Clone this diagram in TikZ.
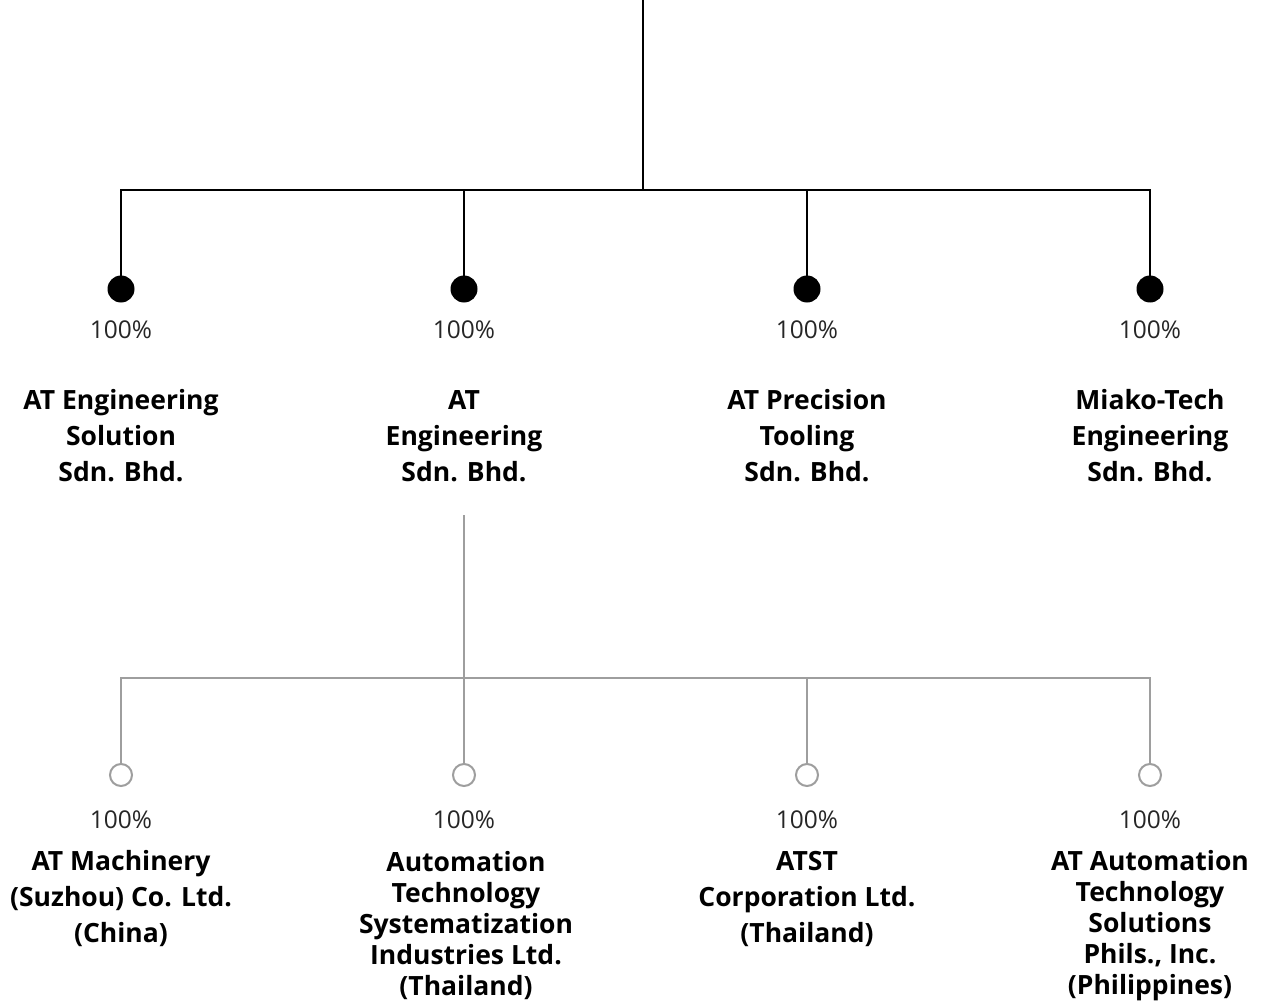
\documentclass[tikz,border=0pt]{standalone}
\usepackage{fontspec}
\setmainfont{Open Sans}
\definecolor{lgrey}{HTML}{9E9E9E}
\begin{document}
\begin{tikzpicture}[x=1pt,y=-1pt,
  blackline/.style={line width=2pt,black},
  greyline/.style={line width=2.4pt,lgrey},
  fulldot/.style={circle,fill=black,inner sep=0pt,minimum size=27pt},
  opendot/.style={circle,draw=lgrey,line width=2pt,fill=white,inner sep=0pt,minimum size=22pt},
  pct/.style={font=\fontsize{24.5}{28}\selectfont,inner sep=0pt,text=black!85},
  nameA/.style={font=\fontsize{26.5}{36}\selectfont\bfseries,align=center,inner sep=0pt},
  nameB/.style={font=\fontsize{26.5}{31}\selectfont\bfseries,align=center,inner sep=0pt}]
\useasboundingbox (0,0) rectangle (1263,1003);
% top level
\coordinate (top) at (643,0);
\coordinate (hub) at (643,190);
\node[fulldot] (d1) at (121,289) {};
\node[fulldot] (d2) at (464,289) {};
\node[fulldot] (d3) at (807,289) {};
\node[fulldot] (d4) at (1150,289) {};
\draw[blackline] (top) -- (hub);
\draw[blackline] (d1.center) |- (hub) -| (d4.center);
\draw[blackline] (d2.center) -- (d2.center |- hub);
\draw[blackline] (d3.center) -- (d3.center |- hub);
\node[pct] (p1) at (121,330) {100\%};
\node[pct] (p2) at (464,330) {100\%};
\node[pct] (p3) at (807,330) {100\%};
\node[pct] (p4) at (1150,330) {100\%};
\node[nameA] (n1) at (121,436) {AT Engineering\\Solution\\Sdn. Bhd.};
\node[nameA] (n2) at (464,436) {AT\\Engineering\\Sdn. Bhd.};
\node[nameA] (n3) at (807,436) {AT Precision\\Tooling\\Sdn. Bhd.};
\node[nameA] (n4) at (1150,436) {Miako-Tech\\Engineering\\Sdn. Bhd.};
% second level
\coordinate (gtop) at (464,515);
\coordinate (ghub) at (464,678);
\node[opendot] (e1) at (121,775) {};
\node[opendot] (e2) at (464,775) {};
\node[opendot] (e3) at (807,775) {};
\node[opendot] (e4) at (1150,775) {};
\draw[greyline] (gtop) -- (ghub);
\draw[greyline] (e1.north) |- (ghub) -| (e4.north);
\draw[greyline] (e2.north) -- (e2.north |- ghub);
\draw[greyline] (e3.north) -- (e3.north |- ghub);
\node[pct] (q1) at (121,820) {100\%};
\node[pct] (q2) at (464,820) {100\%};
\node[pct] (q3) at (807,820) {100\%};
\node[pct] (q4) at (1150,820) {100\%};
\node[nameA] (m1) at (121,899) {AT Machinery\\(Suzhou) Co. Ltd.\\(China)};
\node[nameB] (m2) at (466,926) {Automation\\Technology\\Systematization\\Industries Ltd.\\(Thailand)};
\node[nameA] (m3) at (807,899) {ATST\\Corporation Ltd.\\(Thailand)};
\node[nameB] (m4) at (1150,926) {AT Automation\\Technology\\Solutions\\Phils., Inc.\\(Philippines)};
\end{tikzpicture}
\end{document}
